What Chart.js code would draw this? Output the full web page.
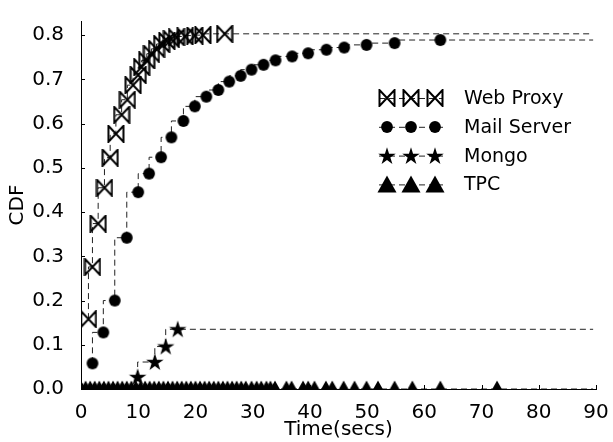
<!DOCTYPE html>
<html><head><meta charset="utf-8">
<script src="https://cdn.jsdelivr.net/npm/chart.js@4.4.0/dist/chart.umd.min.js"></script>
<style>html,body{margin:0;padding:0;background:#fff;}#wrap{width:613px;height:442px;position:relative;}</style>
</head><body><div id="wrap"><canvas id="c"></canvas></div>
<script>
// ---- data ----
const seriesNames = ['Web Proxy', 'Mail Server', 'Mongo', 'TPC'];
const webProxyX = [1.3, 2.0, 3.0, 4.1, 5.1, 6.1, 7.1, 8.1, 9.1, 10.0, 10.6, 11.5, 12.3, 13.2, 14.1, 15.0, 15.8, 16.7, 18.2, 19.9, 21.3, 25.1];
const webProxyY = [0.158, 0.276, 0.374, 0.455, 0.523, 0.577, 0.620, 0.654, 0.687, 0.710, 0.728, 0.743, 0.758, 0.769, 0.780, 0.787, 0.791, 0.795, 0.797, 0.799, 0.800, 0.803];
const mailX = [2.0, 3.9, 5.9, 8.0, 10.0, 11.9, 14.0, 15.8, 17.9, 19.9, 21.9, 24.0, 25.9, 27.9, 29.8, 31.9, 34.0, 36.9, 39.7, 42.9, 46.0, 49.9, 54.8, 62.8];
const mailY = [0.058, 0.128, 0.200, 0.342, 0.445, 0.487, 0.524, 0.569, 0.606, 0.639, 0.661, 0.676, 0.695, 0.708, 0.722, 0.733, 0.743, 0.752, 0.759, 0.767, 0.772, 0.778, 0.782, 0.789];
const mongoX = [9.9, 12.9, 14.8, 16.9];
const mongoY = [0.027, 0.061, 0.096, 0.135];
const tpcX = [0.0, 0.8, 1.6, 2.4, 3.2, 4.0, 4.8, 5.6, 6.4, 7.2, 8.0, 8.8, 9.6, 10.4, 11.2, 12.0, 12.8, 13.6, 14.4, 15.2, 16.0, 16.8, 17.6, 18.4, 19.2, 20.0, 20.8, 21.6, 22.4, 23.2, 24.0, 24.8, 25.6, 26.4, 27.2, 28.0, 28.8, 29.8, 30.7, 31.5, 32.4, 33.1, 33.9, 35.9, 36.8, 38.8, 39.7, 40.8, 42.8, 43.9, 45.9, 47.8, 49.9, 51.9, 54.8, 57.9, 62.8, 72.7];
const tpcY = [0, 0, 0, 0, 0, 0, 0, 0, 0, 0, 0, 0, 0, 0, 0, 0, 0, 0, 0, 0, 0, 0, 0, 0, 0, 0, 0, 0, 0, 0, 0, 0, 0, 0, 0, 0, 0, 0, 0, 0, 0, 0, 0, 0, 0, 0, 0, 0, 0, 0, 0, 0, 0, 0, 0, 0, 0, 0];
const lineEndX = 89.5;   // where every dashed CDF line stops
const xTicks = [0, 10, 20, 30, 40, 50, 60, 70, 80, 90];
const yTicks = [0.0, 0.1, 0.2, 0.3, 0.4, 0.5, 0.6, 0.7, 0.8];
const xLabel = 'Time(secs)';
const yLabel = 'CDF';

// ---- marker images ----
function mk(w, h, fn) { const c = document.createElement('canvas'); c.width = w; c.height = h; const g = c.getContext('2d'); fn(g, w, h); return c; }
const bowtie = mk(18, 18, g => {
  g.strokeStyle = '#000'; g.lineWidth = 2; g.lineJoin = 'miter';
  g.beginPath(); g.moveTo(1.5, 1); g.lineTo(1.5, 17); g.lineTo(16.5, 1); g.lineTo(16.5, 17); g.closePath(); g.stroke();
});
const dot = mk(14, 14, g => { g.fillStyle = '#000'; g.beginPath(); g.arc(7, 7, 5.9, 0, Math.PI * 2); g.fill(); });
const star = mk(20, 20, g => {
  g.fillStyle = '#000'; g.beginPath();
  const R = 9.2, r = R * 0.382, cx = 10, cy = 10.5;
  for (let i = 0; i < 10; i++) { const a = -Math.PI / 2 + i * Math.PI / 5; const rr = i % 2 ? r : R; const px = cx + rr * Math.cos(a), py = cy + rr * Math.sin(a); i ? g.lineTo(px, py) : g.moveTo(px, py); }
  g.closePath(); g.fill();
});
const tri = mk(20, 18, g => { g.fillStyle = '#000'; g.beginPath(); g.moveTo(10, 0.5); g.lineTo(0.5, 17.5); g.lineTo(19.5, 17.5); g.closePath(); g.fill(); });

function series(label, xs, ys, img) {
  const pts = xs.map((x, i) => ({ x: x, y: ys[i] }));
  pts.push({ x: lineEndX, y: ys[ys.length - 1] });
  const radii = pts.map((p, i) => i < xs.length ? 7 : 0);
  return {
    label: label, data: pts, stepped: 'after', showLine: true, fill: false,
    borderColor: '#222', borderWidth: 1, borderDash: [6, 4],
    pointStyle: img, pointRadius: radii, pointHoverRadius: radii,
    pointBackgroundColor: '#000', pointBorderWidth: 0, legendImg: img
  };
}

const inwardTicks = {
  id: 'inwardTicks',
  afterDraw(chart) {
    const { ctx, chartArea: a, scales: { x, y } } = chart;
    ctx.save(); ctx.strokeStyle = '#000'; ctx.lineWidth = 1;
    ctx.beginPath();
    x.ticks.forEach(t => { const px = Math.round(x.getPixelForValue(t.value)) + 0.5; ctx.moveTo(px, a.bottom); ctx.lineTo(px, a.bottom - 4); });
    y.ticks.forEach(t => { const py = Math.round(y.getPixelForValue(t.value)) + 0.5; ctx.moveTo(a.left, py); ctx.lineTo(a.left + 4, py); });
    ctx.stroke(); ctx.restore();
  }
};

const innerLegend = {
  id: 'innerLegend',
  afterDraw(chart) {
    const { ctx, chartArea: a } = chart;
    const x0 = a.left + 306, markGap = 24, textX = a.left + 383, rowTop = a.top + 77, rowGap = 28.8;
    ctx.save();
    chart.data.datasets.forEach((ds, i) => {
      const cy = rowTop + i * rowGap;
      ctx.strokeStyle = '#222'; ctx.lineWidth = 1; ctx.setLineDash([6, 4]);
      ctx.beginPath(); ctx.moveTo(x0 - 8, cy + 0.5); ctx.lineTo(x0 + 2 * markGap + 8, cy + 0.5); ctx.stroke();
      ctx.setLineDash([]);
      for (let k = 0; k < 3; k++) {
        const img = ds.legendImg; const mx = x0 + k * markGap;
        ctx.drawImage(img, Math.round(mx - img.width / 2), Math.round(cy - img.height / 2));
      }
      ctx.fillStyle = '#000'; ctx.font = '19px "DejaVu Sans"'; ctx.textBaseline = 'middle'; ctx.textAlign = 'left';
      ctx.fillText(ds.label, textX, cy + 1);
    });
    ctx.restore();
  }
};

const font = { family: '"DejaVu Sans", sans-serif', size: 20 };
new Chart(document.getElementById('c'), {
  type: 'line',
  data: {
    datasets: [
      series(seriesNames[0], webProxyX, webProxyY, bowtie),
      series(seriesNames[1], mailX, mailY, dot),
      series(seriesNames[2], mongoX, mongoY, star),
      series(seriesNames[3], tpcX, tpcY, tri)
    ]
  },
  options: {
    responsive: true, maintainAspectRatio: false, animation: false,
    layout: { padding: { left: 0, right: 17, top: 15, bottom: 0 } },
    plugins: { legend: { display: false }, tooltip: { enabled: false } },
    scales: {
      x: {
        type: 'linear', min: 0, max: 90,
        afterBuildTicks: s => { s.ticks = xTicks.map(v => ({ value: v })); },
        afterFit: s => { s.height = 53; },
        grid: { display: false }, border: { display: true, color: '#000', width: 1 },
        ticks: { color: '#000', font: font, padding: 4, autoSkip: false, maxRotation: 0, callback: v => String(v) },
        title: { display: true, text: xLabel, color: '#000', font: font, padding: { top: 0, bottom: 0 } }
      },
      y: {
        type: 'linear', min: 0, max: 0.832,
        afterBuildTicks: s => { s.ticks = yTicks.map(v => ({ value: v })); },
        afterFit: s => { s.width = 81; },
        grid: { display: false }, border: { display: true, color: '#000', width: 1 },
        ticks: { color: '#000', font: font, padding: 9, callback: v => Number(v).toFixed(1) },
        title: { display: true, text: yLabel, color: '#000', font: font, padding: { top: 6, bottom: 0 } }
      }
    }
  },
  plugins: [inwardTicks, innerLegend]
});
</script></body></html>
